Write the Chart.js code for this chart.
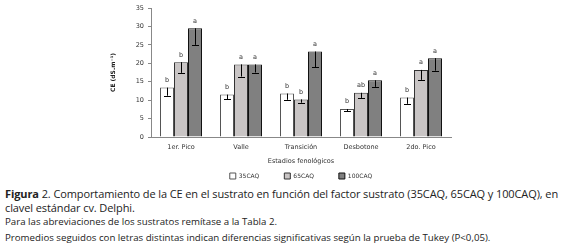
<!DOCTYPE html>
<html>
<head>
<meta charset="utf-8">
<script src="https://cdn.jsdelivr.net/npm/chart.js@4.4.0/dist/chart.umd.min.js"></script>
<style>
    body { margin: 0; background: #fff; width: 563px; height: 252px; overflow: hidden; position: relative; }
    #chartBox { position: absolute; left: 95px; top: 0; width: 362px; height: 184px; }
    .caption { position: absolute; left: 5px; color: #222; font-family: "Open Sans", sans-serif; white-space: nowrap; }
    .big { font-size: 11px; letter-spacing: -0.1px; }
    .small { font-size: 9.7px; letter-spacing: 0; }
</style>
</head>
<body>
<div id="chartBox"><canvas id="ceChart"></canvas></div>
<div class="caption big" style="top:186px"><b>Figura</b> 2. Comportamiento de la CE en el sustrato en función del factor sustrato (35CAQ, 65CAQ y 100CAQ), en</div>
<div class="caption big" style="top:200px">clavel estándar cv. Delphi.</div>
<div class="caption small" style="top:215px">Para las abreviaciones de los sustratos remítase a la Tabla 2.</div>
<div class="caption small" style="top:231px">Promedios seguidos con letras distintas indican diferencias significativas según la prueba de Tukey (P&lt;0,05).</div>
<script>
const stages = ['1er. Pico', 'Valle', 'Transición', 'Desbotone', '2do. Pico'];
const seriesNames = ['35CAQ', '65CAQ', '100CAQ'];

const ce35 = [13.4, 11.5, 11.8, 7.6, 10.7];
const ce65 = [20.3, 19.7, 10.2, 12.0, 18.2];
const ce100 = [29.5, 19.7, 23.2, 15.4, 21.4];

const err35 = [2.2, 1.3, 1.7, 0.6, 1.7];
const err65 = [2.9, 3.3, 0.9, 1.4, 2.7];
const err100 = [4.5, 2.2, 4.3, 1.8, 3.4];

const letters35 = ['b', 'b', 'b', 'b', 'b'];
const letters65 = ['b', 'a', 'b', 'ab', 'a'];
const letters100 = ['a', 'a', 'a', 'a', 'a'];

const tickFont = { family: 'DejaVu Sans', size: 6.5 };
const legendGap = 25;

// minus-only error bars plus Tukey letters above each bar
const barExtras = {
    id: 'barExtras',
    afterDatasetsDraw(chart) {
        const ctx = chart.ctx;
        const y = chart.scales.y;
        ctx.save();
        chart.data.datasets.forEach((ds, i) => {
            const meta = chart.getDatasetMeta(i);
            meta.data.forEach((bar, j) => {
                const low = y.getPixelForValue(ds.data[j] - ds.errors[j]);
                const x = Math.round(bar.x);
                ctx.strokeStyle = '#000';
                ctx.lineWidth = 1;
                ctx.beginPath();
                ctx.moveTo(x + 0.5, bar.y);
                ctx.lineTo(x + 0.5, low);
                ctx.moveTo(x - 3, Math.round(low) + 0.5);
                ctx.lineTo(x + 4, Math.round(low) + 0.5);
                ctx.stroke();

                ctx.fillStyle = '#333';
                ctx.font = '6.5px "DejaVu Sans"';
                ctx.textAlign = 'center';
                ctx.textBaseline = 'bottom';
                ctx.fillText(ds.letters[j], bar.x, bar.y - 4);
            });
        });
        ctx.restore();
    }
};

// wide horizontal gap between legend items, but a short legend box
const flatLegend = {
    id: 'flatLegend',
    beforeInit(chart) {
        const legend = chart.legend;
        const origFit = legend.fit;
        const origDraw = legend._draw;
        legend.fit = function () {
            origFit.call(this);
            this.height = 16;
        };
        legend._draw = function () {
            const top = this.top;
            this.top = top - (legendGap - 5);
            origDraw.call(this);
            this.top = top;
        };
    }
};

new Chart(document.getElementById('ceChart'), {
    type: 'bar',
    data: {
        labels: stages,
        datasets: [
            { label: seriesNames[0], data: ce35, errors: err35, letters: letters35, backgroundColor: '#ffffff', borderColor: '#555', borderWidth: 1 },
            { label: seriesNames[1], data: ce65, errors: err65, letters: letters65, backgroundColor: '#c9c5c5', borderColor: '#333', borderWidth: 1 },
            { label: seriesNames[2], data: ce100, errors: err100, letters: letters100, backgroundColor: '#808080', borderColor: '#111', borderWidth: 1 }
        ]
    },
    options: {
        responsive: true,
        maintainAspectRatio: false,
        animation: false,
        datasets: { bar: { categoryPercentage: 0.7, barPercentage: 1.0 } },
        layout: { padding: { top: 8, right: 6, bottom: 0, left: 0 } },
        plugins: {
            tooltip: { enabled: false },
            legend: {
                position: 'bottom',
                fullSize: false,
                labels: {
                    font: { family: 'DejaVu Sans', size: 6 },
                    color: '#333',
                    boxWidth: 6,
                    boxHeight: 6,
                    padding: legendGap
                }
            }
        },
        scales: {
            x: {
                grid: { display: false, drawTicks: false },
                border: { color: '#888' },
                ticks: { font: tickFont, color: '#333', padding: 6 },
                title: { display: true, text: 'Estadios fenológicos', font: tickFont, color: '#333', padding: { top: 4, bottom: 3 } },
                afterFit(scale) { scale.height = 31; }
            },
            y: {
                min: 0,
                max: 35,
                ticks: { stepSize: 5, font: tickFont, color: '#333', padding: 4 },
                grid: { drawOnChartArea: false, tickLength: 3, color: '#888' },
                border: { color: '#888' },
                title: { display: true, text: 'CE (dS.m⁻¹)', font: { family: 'DejaVu Sans', size: 6, weight: 'bold' }, color: '#222', padding: { top: 15, bottom: 0 } },
                afterFit(scale) { scale.width = 56; }
            }
        }
    },
    plugins: [barExtras, flatLegend]
});
</script>
</body>
</html>
